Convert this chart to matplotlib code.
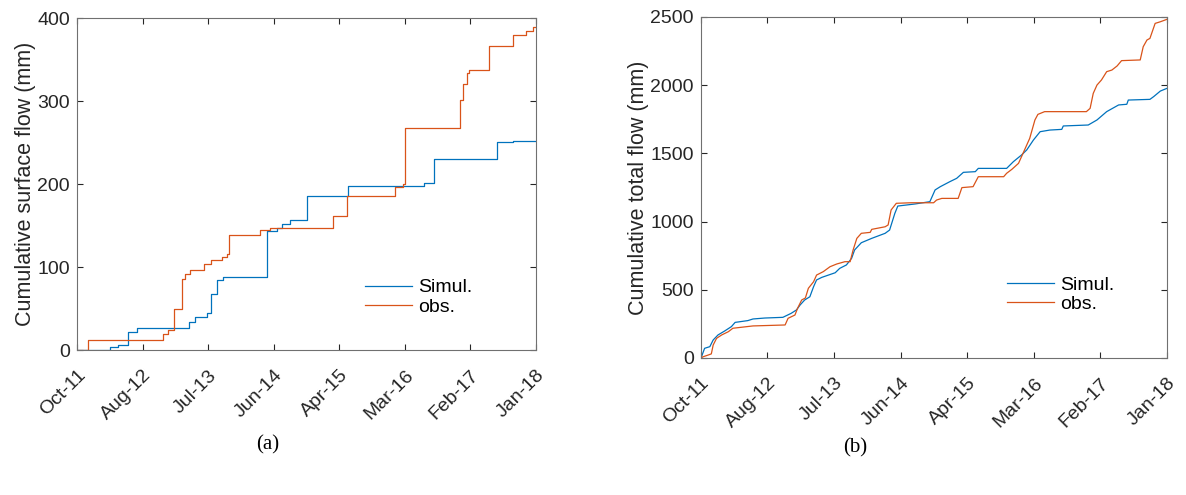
import numpy as np
import matplotlib
matplotlib.use("Agg")
import matplotlib.pyplot as plt
import matplotlib.dates as mdates
from datetime import datetime, timedelta

plt.rcParams['font.family'] = ['Liberation Sans', 'DejaVu Sans']

# (a) cumulative surface flow, decimal years / mm (step data)
surf_sim_t = [2011.75, 2012.20, 2012.31, 2012.44, 2012.56, 2013.27, 2013.35, 2013.52,
              2013.57, 2013.66, 2013.74, 2014.33, 2014.47, 2014.54, 2014.65, 2014.88,
              2015.44, 2016.47, 2016.61, 2017.47, 2017.69, 2018.0]
surf_sim_v = [0, 4, 6, 22, 27, 34, 40, 44, 67, 84, 88, 143, 147, 152, 157, 185,
              198, 201, 230, 251, 252, 252]
surf_obs_t = [2011.75, 2011.90, 2012.92, 2012.99, 2013.07, 2013.18, 2013.22, 2013.29,
              2013.47, 2013.57, 2013.72, 2013.79, 2013.82, 2014.24, 2014.37, 2015.24,
              2015.42, 2016.08, 2016.19, 2016.22, 2016.97, 2017.00, 2017.06, 2017.09,
              2017.36, 2017.68, 2017.87, 2017.96, 2018.0]
surf_obs_v = [0, 12, 19, 24, 49, 85, 92, 96, 104, 109, 112, 116, 138, 144, 147, 161,
              185, 197, 200, 267, 301, 320, 334, 337, 366, 379, 384, 389, 389]

# (b) cumulative total flow
tot_sim_t = [2011.75, 2011.758, 2011.80, 2011.87, 2011.915, 2011.98, 2012.07, 2012.16,
             2012.21, 2012.38, 2012.45, 2012.61, 2012.85, 2012.96, 2013.03, 2013.08,
             2013.14, 2013.21, 2013.26, 2013.30, 2013.37, 2013.46, 2013.55, 2013.61,
             2013.70, 2013.77, 2013.81, 2013.90, 2014.04, 2014.22, 2014.28, 2014.35,
             2014.39, 2014.62, 2014.82, 2014.89, 2014.96, 2015.09, 2015.18, 2015.27,
             2015.43, 2015.47, 2015.85, 2015.94, 2016.05, 2016.12, 2016.21, 2016.30,
             2016.43, 2016.59, 2016.61, 2016.945, 2017.06, 2017.19, 2017.35, 2017.46,
             2017.48, 2017.77, 2017.82, 2017.91, 2018.0]
tot_sim_v = [0, 9, 71, 83, 132, 169, 198, 230, 261, 274, 286, 293, 298, 327, 352, 389,
             425, 449, 523, 572, 591, 608, 625, 657, 682, 731, 792, 845, 877, 914, 938,
             1060, 1114, 1129, 1146, 1232, 1256, 1293, 1317, 1361, 1366, 1390, 1390,
             1439, 1488, 1525, 1598, 1659, 1671, 1676, 1701, 1708, 1745, 1806, 1855,
             1860, 1891, 1896, 1916, 1957, 1977]
tot_obs_t = [2011.75, 2011.78, 2011.85, 2011.89, 2011.915, 2011.96, 2012.03, 2012.12,
             2012.18, 2012.45, 2012.88, 2012.92, 2013.01, 2013.045, 2013.10, 2013.15,
             2013.19, 2013.26, 2013.30, 2013.39, 2013.48, 2013.57, 2013.68, 2013.75,
             2013.79, 2013.84, 2013.90, 2014.02, 2014.04, 2014.22, 2014.26, 2014.30,
             2014.37, 2014.57, 2014.87, 2014.91, 2014.98, 2015.20, 2015.25, 2015.40,
             2015.47, 2015.81, 2015.85, 2015.92, 2016.01, 2016.07, 2016.16, 2016.23,
             2016.27, 2016.36, 2016.92, 2016.97, 2017.01, 2017.06, 2017.12, 2017.19,
             2017.26, 2017.33, 2017.39, 2017.64, 2017.68, 2017.73, 2017.77, 2017.84,
             2017.91, 2018.0]
tot_obs_v = [0, 9, 22, 30, 95, 144, 169, 193, 218, 235, 242, 291, 315, 364, 425, 440,
             511, 559, 608, 633, 669, 689, 706, 706, 792, 877, 914, 921, 943, 962, 975,
             1085, 1134, 1138, 1138, 1158, 1170, 1170, 1249, 1256, 1329, 1329, 1354,
             1383, 1427, 1500, 1610, 1745, 1786, 1806, 1806, 1830, 1940, 2001, 2038,
             2099, 2111, 2141, 2180, 2185, 2282, 2331, 2343, 2453, 2465, 2483]

tick_labels_start = datetime(2011, 10, 1)
tick_labels_end = datetime(2018, 1, 1)

blue = '#0072BD'
orange = '#D95319'


def yr2date(y):
    year = int(y)
    return datetime(year, 1, 1) + timedelta(days=(y - year) * 365.25)


def style_axis(ax, ymax, ystep):
    x0 = mdates.date2num(tick_labels_start)
    x1 = mdates.date2num(tick_labels_end)
    ax.set_xlim(x0, x1)
    ax.set_ylim(0, ymax)
    ax.set_xticks(np.linspace(x0, x1, 8))
    ax.xaxis.set_major_formatter(mdates.DateFormatter('%b-%y'))
    ax.set_yticks(np.arange(0, ymax + 1, ystep))
    ax.tick_params(direction='in', length=4, top=True, right=True,
                   labelsize=14, colors='#262626', pad=5)
    ax.tick_params(axis='x', pad=12)
    for lab in ax.get_xticklabels():
        lab.set_rotation(45)
        lab.set_ha('right')
        lab.set_rotation_mode('anchor')
    for s in ax.spines.values():
        s.set_color('#707070')
        s.set_linewidth(0.8)


fig = plt.figure(figsize=(11.86, 4.95), dpi=100)

ax1 = fig.add_axes([0.0649, 0.2929, 0.387, 0.6707])
ax1.plot([yr2date(t) for t in surf_sim_t], surf_sim_v, color=blue, lw=0.9,
         drawstyle='steps-post', label='Simul.')
ax1.plot([yr2date(t) for t in surf_obs_t], surf_obs_v, color=orange, lw=0.9,
         drawstyle='steps-post', label='obs.')
style_axis(ax1, 400, 100)
ax1.set_ylabel('Cumulative surface flow (mm)', fontsize=15.5, color='#262626', labelpad=1)
ax1.legend(loc='lower left', bbox_to_anchor=(0.59, 0.05), frameon=False, fontsize=14,
           handlelength=2.4, handletextpad=0.3, labelspacing=0.1)

ax2 = fig.add_axes([0.5908, 0.2768, 0.3932, 0.6889])
ax2.plot([yr2date(t) for t in tot_sim_t], tot_sim_v, color=blue, lw=0.9, label='Simul.')
ax2.plot([yr2date(t) for t in tot_obs_t], tot_obs_v, color=orange, lw=0.9, label='obs.')
style_axis(ax2, 2500, 500)
ax2.set_ylabel('Cumulative total flow (mm)', fontsize=15.5, color='#262626', labelpad=1)
ax2.legend(loc='lower left', bbox_to_anchor=(0.62, 0.08), frameon=False, fontsize=14,
           handlelength=2.4, handletextpad=0.3, labelspacing=0.1)

fig.text(268 / 1186, 1 - 445 / 495, '(a)', family='Liberation Serif', fontsize=15,
         ha='center', va='center')
fig.text(855 / 1186, 1 - 448 / 495, '(b)', family='Liberation Serif', fontsize=15,
         ha='center', va='center')

fig.savefig('out.png', dpi=100)
